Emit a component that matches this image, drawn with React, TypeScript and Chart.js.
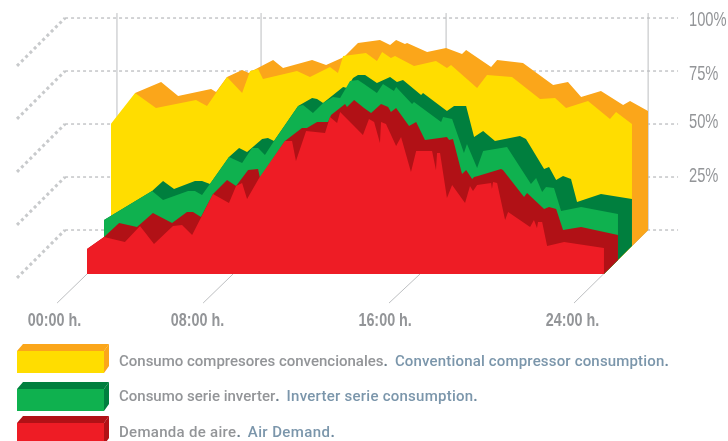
import React, { useEffect, useRef } from "react";
import { Chart, registerables } from "chart.js";

Chart.register(...registerables);

// ---- values (x in hours along the front plane, y in %) ----
const orangeHours = [2.23,3.44,4.23,5.76,5.99,6.5,7.2,7.52,7.66,8.64,9.1,10.45,11.1,11.93,12.58,13.6,14.07,14.35,14.76,14.86,15.79,16.67,17.41,17.6,18.76,19.04,20.24,21.64,22.33,22.94,23.86,24.89,25.21,26.05];
const orangeValues = [85.4,90.6,84,87.3,85.8,92.9,96.2,94.8,95.8,100.9,97.2,100.9,98.6,102.4,109,110.4,108,110.4,108.5,109,104.7,106.6,103.8,105.7,97.6,100.9,99.5,89.2,90.6,83.5,86.3,79.7,81.6,76.9];

const yellowHours = [1.11,2.23,3.2,5.06,5.57,6.5,7.2,7.57,7.94,8.17,9.75,10.35,11.28,11.65,11.89,12.95,13.46,13.7,14.11,14.3,15.18,16.2,16.71,16.9,18.11,18.57,19.73,21.03,21.73,22.24,23.26,24.28,24.56,25.3];
const yellowValues = [70.8,85.4,78.3,82.1,79.2,92.9,85.4,95.8,96.7,92,95.8,92.9,97.6,94.8,102.8,104.2,100.5,104.7,101.9,102.8,98.1,100.5,97.2,98.6,87.7,93.9,92.9,82.5,83,78.3,81.6,73.1,76.4,70.8];

const darkGreenHours = [0.79,3.02,3.53,4.04,5.01,5.34,5.71,6.59,7.06,7.43,8.13,8.4,8.68,9.8,10.45,10.68,10.96,11.89,12.07,12.35,12.58,12.91,13.46,14.07,14.39,14.67,15.51,15.6,16.71,17.04,17.6,17.97,18.39,18.94,20.1,20.38,21.22,21.45,21.78,22.1,22.47,22.75,23.86,25.3];
const darkGreenValues = [25.5,39.2,43.9,40.1,43.9,43.9,42.5,55.2,59.4,57.5,63.7,64.2,62.7,79.2,83,82.5,80.7,88.2,87.7,92.5,93.9,93.9,90.1,92.9,90.6,91.5,84.4,85.4,76.9,79.2,79.2,64.6,67.5,62.7,65.1,63.7,49.5,50.5,44.3,46.2,44.8,34,37.7,35.4];

const greenHours = [0.79,3.02,3.53,4.69,5.01,5.34,6.59,7.2,7.66,7.94,8.26,8.68,9.8,10.03,10.49,10.96,11.42,11.75,12.21,12.58,12.86,13.46,13.74,14.25,14.35,15.09,15.18,16.44,16.53,16.95,17.5,17.64,18.11,18.39,19.5,20.61,20.85,21.13,21.31,21.68,22.01,22.94,24.65];
const greenValues = [25.5,39.2,34.9,39.2,39.2,37.3,55.2,52.4,59.4,59.4,56.1,62.7,79.2,79.7,75.9,80.7,83.5,83,91,91.5,89.6,85.4,89.6,86.3,88.2,80.2,81.1,71.7,74.1,73.1,57.1,61.3,50,58,59.9,42.5,45.3,38.7,41,40.6,29.7,31.6,28.3];

const darkRedHours = [0,0.79,1.49,2.32,3.06,3.95,4.64,4.92,5.29,5.85,6.5,6.92,7.48,7.94,8.03,9.19,9.98,10.21,10.68,11.19,11.33,11.98,12.07,12.4,12.86,13.19,13.65,13.98,14.11,14.35,14.95,15.28,15.69,16.71,16.81,16.99,17.41,17.6,17.88,17.97,18.15,19.22,19.31,20.29,20.43,21.22,21.45,21.78,22.1,22.94,24.65];
const darkRedValues = [11.8,17.5,24.1,22.2,28.8,24.1,29.2,29.2,26.9,37.7,44.3,41.5,49.1,49.5,45.3,62.7,68.9,68.9,71.7,71.7,75,80.2,78.8,82.1,78.3,75.9,80.2,78.8,76.4,78.3,69.8,71.7,63.2,64.6,63.2,63.7,47.2,49.1,44.8,45.8,46.2,49.5,49.1,36.3,38.2,30.7,31.6,30.7,20.8,22.2,18.4];

const redHours = [0,0.79,1.76,2.46,3.11,3.99,4.41,4.88,5.85,6.59,6.92,7.2,7.43,7.99,9.19,9.52,9.7,10.17,11.05,11.28,11.61,11.75,12.81,13.09,13.33,13.6,13.65,13.88,14.35,14.58,15.04,15.28,16.02,16.2,16.25,16.39,16.71,16.95,17.55,17.78,17.92,18.11,18.76,18.8,18.85,19.04,19.41,19.55,20.57,20.75,20.89,20.94,21.13,21.36,22.15,24];
const redValues = [11.8,17.5,15.1,22.6,14.2,22.6,23.1,18.4,37.7,33.5,41.5,42.9,35.4,45.3,62.7,62.7,53.3,67.5,66.5,74.1,71.2,76.4,65.6,73.1,71.7,61.8,71.7,70.8,60.4,64.6,48.1,58,58,49.1,57.1,57.1,35.8,42,33.5,41.5,39.2,42,42.9,40.1,43.4,42.9,25.5,29.2,22.2,25.5,21.7,24.5,24.5,13.2,15.1,12.3];

// floor of the 3D box: front edge, then the receding side edge
const floorHours = [0, 24, 26.05];
const floorValues = [0, 0, 20.75];

const gridLevels = [0, 25, 50, 75, 100];
const wallLift = 20.75; // height of the back wall's 0% above the front plane
const wallHours = [1.39, 8.08, 16.67, 26.05];
const wallTop = 123.1;
const gridStartHour = -1.02;
const gridEndHour = 27.44;
const sideStartHour = -3.25;
const sideDrop = 22.6;
const timeGuideStart = [-1.39, 5.39, 14.02, 22.61];
const timeGuideEnd = [0, 6.78, 15.46, 26.05];
const timeGuideLow = -13.7;

const xTickLabels = ["00:00 h.", "08:00 h.", "16:00 h.", "24:00 h."];
const xTickValues = [-1.51, 5.13, 13.84, 22.54];
const yTickLabels = ["25%", "50%", "75%", "100%"];
const yTickValues = [46.2, 71.7, 94.3, 119.8];

const xRange = [-4.04, 27.53];
const yRange = [-14.62, 129.25];

const legendSpanish = ["Consumo compresores convencionales", "Consumo serie inverter", "Demanda de aire"];
const legendEnglish = ["Conventional compressor consumption", "Inverter serie consumption", "Air Demand"];
const legendFronts = ["#ffdd00", "#0fb14f", "#ee1c25"];
const legendTops = ["#fba61a", "#007f3e", "#b11116"];

const pairs = (xs: number[], ys: number[]) => xs.map((x, i) => ({ x, y: ys[i] }));

// The reference's tick face is a condensed grotesque: squeeze each tick label horizontally.
function narrowLabels(scale: any, factor: number) {
  if (scale._narrowed) return;
  scale._narrowed = true;
  const draw = scale.drawLabels;
  scale.drawLabels = function (chartArea: any) {
    const ctx = this.ctx;
    const fillText = ctx.fillText;
    ctx.fillText = function (text: string, x: number, y: number) {
      ctx.save();
      ctx.scale(factor, 1);
      fillText.call(ctx, text, x / factor, y);
      ctx.restore();
    };
    draw.call(this, chartArea);
    delete ctx.fillText;
  };
}

const narrowTicks = {
  id: "narrowTicks",
  beforeDraw(chart: any) {
    narrowLabels(chart.scales.x, 0.82);
    narrowLabels(chart.scales.y, 0.7);
  },
};

function App() {
  const ref = useRef<HTMLCanvasElement>(null);
  useEffect(() => {
    document.body.style.margin = "0";
    const area = (label: string, xs: number[], ys: number[], color: string, floor: number) => ({
      label,
      data: pairs(xs, ys),
      borderWidth: 0,
      pointRadius: 0,
      backgroundColor: color,
      fill: { target: floor },
    });
    const areaCount = 6;
    const floorIndex = areaCount;
    const datasets: any[] = [
      area("Demanda de aire", redHours, redValues, "#ee1c25", floorIndex),
      area("Demanda de aire (fondo)", darkRedHours, darkRedValues, "#b11116", floorIndex),
      area("Consumo serie inverter", greenHours, greenValues, "#0fb14f", floorIndex),
      area("Consumo serie inverter (fondo)", darkGreenHours, darkGreenValues, "#007f3e", floorIndex),
      area("Consumo compresores convencionales", yellowHours, yellowValues, "#ffdd00", floorIndex),
      area("Consumo compresores convencionales (fondo)", orangeHours, orangeValues, "#fba61a", floorIndex),
      { label: "floor", data: pairs(floorHours, floorValues), borderWidth: 0, pointRadius: 0, borderColor: "transparent", fill: false },
    ];
    wallHours.forEach((h) => {
      datasets.push({
        label: "wall",
        data: [{ x: h, y: wallLift }, { x: h, y: wallTop }],
        borderColor: "#bcbec0",
        borderWidth: 1,
        pointRadius: 0,
        fill: false,
      });
    });
    timeGuideStart.forEach((h, i) => {
      const last = i === timeGuideStart.length - 1;
      datasets.push({
        label: "guide",
        data: [{ x: h, y: timeGuideLow }, { x: timeGuideEnd[i], y: last ? wallLift : 0 }],
        borderColor: "#bcbec0",
        borderWidth: 1,
        pointRadius: 0,
        fill: false,
      });
    });
    gridLevels.forEach((lv) => {
      datasets.push({
        label: "grid",
        data: [{ x: gridStartHour, y: lv + wallLift }, { x: gridEndHour, y: lv + wallLift }],
        borderColor: "#a7a9ac",
        borderWidth: 1,
        borderDash: [3, 3],
        pointRadius: 0,
        fill: false,
      });
      datasets.push({
        label: "side",
        data: [{ x: sideStartHour, y: lv + wallLift - sideDrop }, { x: gridStartHour, y: lv + wallLift }],
        borderColor: "#c8cacc",
        borderWidth: 3,
        borderDash: [3, 3],
        pointRadius: 0,
        fill: false,
      });
    });
    const labelColor = "#939598";
    const chart = new Chart(ref.current as HTMLCanvasElement, {
      type: "line",
      data: { datasets },
      plugins: [narrowTicks],
      options: {
        animation: false,
        responsive: false,
        layout: { padding: 0 },
        plugins: { legend: { display: false }, tooltip: { enabled: false }, title: { display: false } },
        elements: { line: { tension: 0 } },
        scales: {
          x: {
            type: "linear",
            min: xRange[0],
            max: xRange[1],
            border: { display: false },
            grid: { display: false, drawTicks: false },
            afterBuildTicks: (s: any) => { s.ticks = xTickValues.map((value) => ({ value })); },
            afterFit: (s: any) => { s.height = 136; s.paddingLeft = 0; s.paddingRight = 0; },
            ticks: {
              autoSkip: false,
              maxRotation: 0,
              padding: 6,
              color: labelColor,
              font: { family: "'Liberation Sans'", size: 17.5, weight: "bold" },
              callback: (_v: any, i: number) => xTickLabels[i],
            },
          },
          y: {
            type: "linear",
            position: "right",
            min: yRange[0],
            max: yRange[1],
            border: { display: false },
            grid: { display: false, drawTicks: false },
            afterBuildTicks: (s: any) => { s.ticks = yTickValues.map((value) => ({ value })); },
            afterFit: (s: any) => { s.width = 48; s.paddingTop = 0; s.paddingBottom = 0; },
            ticks: {
              autoSkip: false,
              padding: 9,
              color: labelColor,
              font: { family: "'Liberation Sans'", size: 21 },
              callback: (_v: any, i: number) => yTickLabels[i],
            },
          },
        },
      } as any,
    });
    return () => chart.destroy();
  }, []);

  const legendTop = [344, 382, 416];
  const legendTextTop = [350, 385, 421];
  const spanishSpacing = [0, 0, 0.3];
  const englishSpacing = [0.17, 0.25, 0.4];
  return (
    <div style={{ position: "relative", width: 728, height: 441, overflow: "hidden", background: "#fff" }}>
      <canvas ref={ref} width={728} height={441} style={{ position: "absolute", left: 0, top: 0, display: "block" }} />
      {legendSpanish.map((es, i) => (
        <React.Fragment key={es}>
          <svg width={95} height={30} style={{ position: "absolute", left: 17, top: legendTop[i] }}>
            <polygon points="0,7 6,0 92,0 87,7" fill={legendTops[i]} />
            <polygon points="87,7 92,0 92,22 87,29" fill={legendTops[i]} />
            <rect x={0} y={7} width={87} height={22} fill={legendFronts[i]} />
          </svg>
          <div
            style={{
              position: "absolute",
              left: 119,
              top: legendTextTop[i],
              whiteSpace: "nowrap",
              fontFamily: "Roboto",
              fontSize: 15,
              fontWeight: 500,
              lineHeight: "22px",
              color: "#939598",
            }}
          >
            <span style={{ letterSpacing: spanishSpacing[i] }}>{es}</span>
            <span style={{ color: "#6f7f8c", fontWeight: 700 }}>.</span>
            <span style={{ color: "#7b96ab", marginLeft: 7, letterSpacing: englishSpacing[i] }}>{legendEnglish[i]}</span>
            <span style={{ color: "#6f8ba0", fontWeight: 700 }}>.</span>
          </div>
        </React.Fragment>
      ))}
    </div>
  );
}

export default App;
